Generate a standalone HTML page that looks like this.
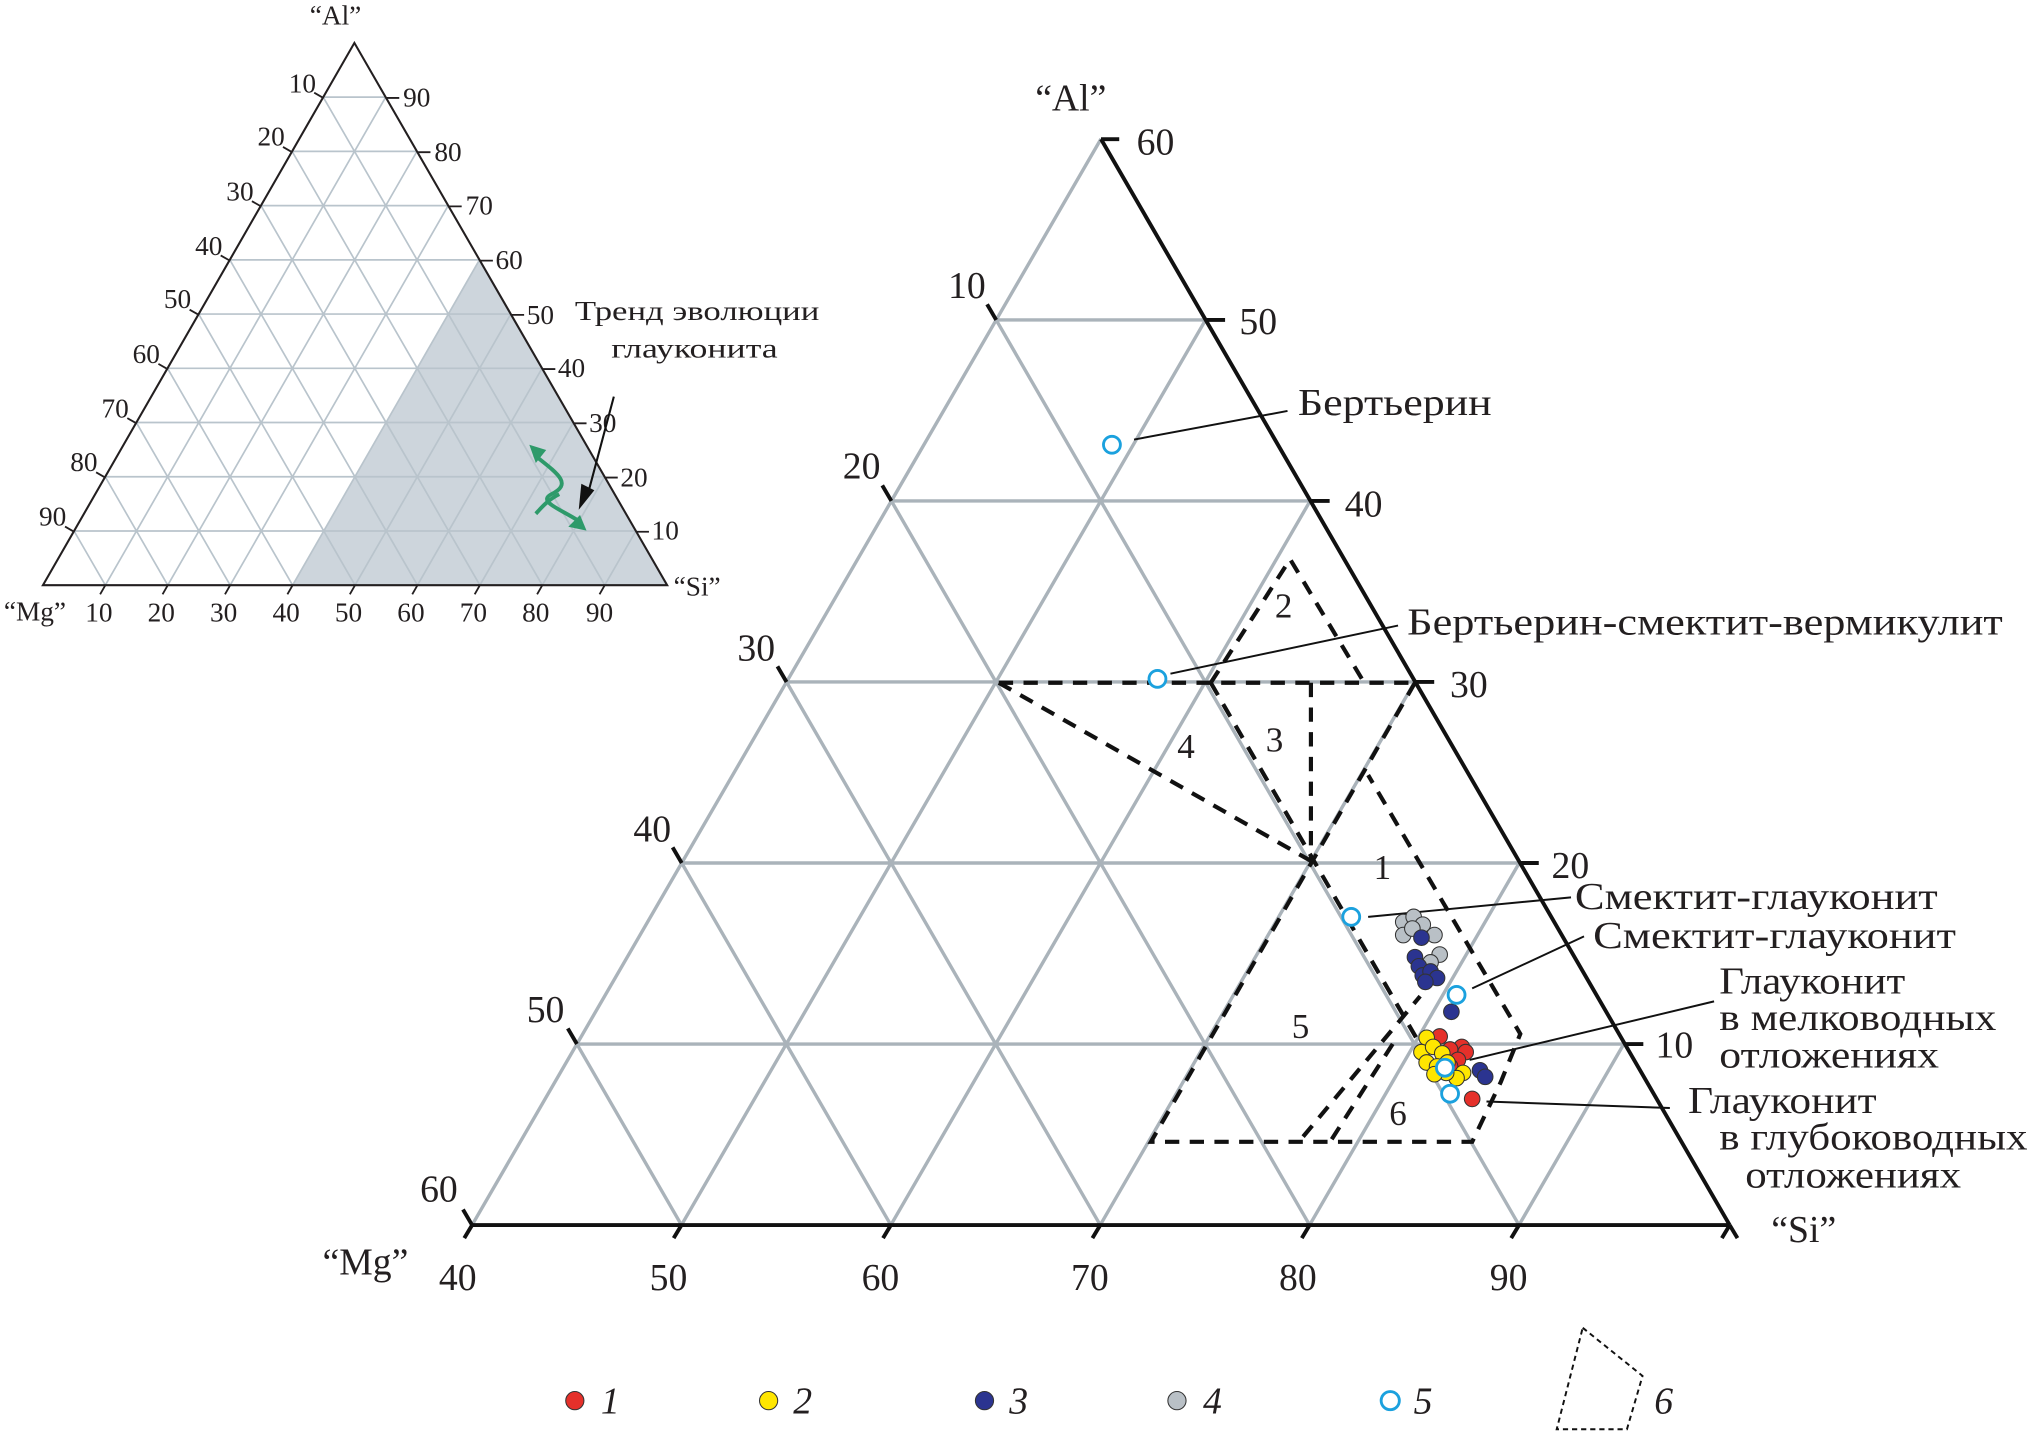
<!DOCTYPE html>
<html><head><meta charset="utf-8"><style>
html,body{margin:0;padding:0;background:#fff;}
svg{display:block;}
text{font-family:"Liberation Serif","DejaVu Serif",serif;fill:#231f20;}
</style></head><body>
<svg width="2034" height="1439" viewBox="0 0 1564 1106.5" preserveAspectRatio="none" xmlns="http://www.w3.org/2000/svg">
<rect x="0" y="0" width="1564" height="1106.5" fill="#fff"/>

<!-- SMALL TRIANGLE -->
<polygon points="225,450 513,450 368.7,199.8" fill="#cdd5dc"/>
<g transform="matrix(48,0,23.95,-41.7,33,450)" stroke="#b9c4cc" stroke-width="1.7" fill="none">
<path vector-effect="non-scaling-stroke" d="M0,1L9,1M0,2L8,2M0,3L7,3M0,4L6,4M0,5L5,5M0,6L4,6M0,7L3,7M0,8L2,8M0,9L1,9
M1,0L1,9M2,0L2,8M3,0L3,7M4,0L4,6M5,0L5,5M6,0L6,4M7,0L7,3M8,0L8,2M9,0L9,1
M1,0L0,1M2,0L0,2M3,0L0,3M4,0L0,4M5,0L0,5M6,0L0,6M7,0L0,7M8,0L0,8M9,0L0,9"/>
</g>
<path d="M33,450L272.5,33L513,450Z" stroke="#231f20" stroke-width="1.6" fill="none"/>
<g stroke="#231f20" stroke-width="1.4">
<path d="M297,75.3h10M321,117h10M345,158.7h10M369,200.4h10M393,242.1h10M417,283.8h10M441,325.5h10M465,367.2h10M489,408.9h10"/>
<path d="M248.6,75.3l-7,-4M224.6,117l-7,-4M200.7,158.7l-7,-4M176.7,200.4l-7,-4M152.8,242.1l-7,-4M128.8,283.8l-7,-4M104.9,325.5l-7,-4M80.9,367.2l-7,-4M57,408.9l-7,-4"/>
<path d="M81,450l-4,7M129,450l-4,7M177,450l-4,7M225,450l-4,7M273,450l-4,7M321,450l-4,7M369,450l-4,7M417,450l-4,7M465,450l-4,7"/>
</g>
<g font-size="21">
<text x="258" y="19" text-anchor="middle">“Al”</text>
<text x="518" y="458">“Si”</text>
<text x="3" y="477">“Mg”</text>
<g text-anchor="middle">
<text x="76" y="478">10</text><text x="124" y="478">20</text><text x="172" y="478">30</text><text x="220" y="478">40</text><text x="268" y="478">50</text><text x="316" y="478">60</text><text x="364" y="478">70</text><text x="412" y="478">80</text><text x="461" y="478">90</text>
</g>
<g text-anchor="end">
<text x="243" y="71">10</text><text x="219" y="112">20</text><text x="195" y="154">30</text><text x="171" y="196">40</text><text x="147" y="237">50</text><text x="123" y="279">60</text><text x="99" y="321">70</text><text x="75" y="362">80</text><text x="51" y="404">90</text>
</g>
<text x="310" y="82">90</text><text x="334" y="124">80</text><text x="358" y="165">70</text><text x="381" y="207">60</text><text x="405" y="249">50</text><text x="429" y="290">40</text><text x="453" y="332">30</text><text x="477" y="374">20</text><text x="501" y="415">10</text>
<text x="442" y="246" textLength="188" lengthAdjust="spacingAndGlyphs">Тренд эволюции</text>
<text x="470" y="275" textLength="128" lengthAdjust="spacingAndGlyphs">глауконита</text>
</g>
<!-- arrows small -->
<path d="M472,305L452,380" stroke="#111" stroke-width="1.6"/>
<path d="M445,392L447,372L457,377Z" fill="#111"/>
<path d="M411,350C430,365 440,372 424,380C412,386 435,393 447,402" stroke="#2e9a6a" stroke-width="3" fill="none"/>
<path d="M407,342L420,346L412,356Z" fill="#2e9a6a"/>
<path d="M451,408L437,405L446,396Z" fill="#2e9a6a"/>
<path d="M430,380C420,385 415,392 412,395" stroke="#2e9a6a" stroke-width="3" fill="none"/>

<!-- MAIN TRIANGLE GRID -->
<g transform="matrix(161,0,80.6,-139.2,363,942)" stroke="#aab3ba" stroke-width="3.4" fill="none">
<path vector-effect="non-scaling-stroke" d="M0,1L5,1M0,2L4,2M0,3L3,3M0,4L2,4M0,5L1,5
M1,0L1,5M2,0L2,4M3,0L3,3M4,0L4,2M5,0L5,1
M1,0L0,1M2,0L0,2M3,0L0,3M4,0L0,4M5,0L0,5M0,0L0,6"/>
</g>
<path d="M363,942L1330,942M846.6,107L1330,942" stroke="#111" stroke-width="3" fill="none"/>
<g stroke="#111" stroke-width="3">
<path d="M846.6,107h14M927,246h15M1007.4,385.2h15M1087.8,524.4h15M1168.2,663.6h15M1248.6,802.8h15"/>
<path d="M766,246l-7,-12M685.4,385.2l-7,-12M604.8,524.4l-7,-12M524.2,663.6l-7,-12M443.6,802.8l-7,-12M363,942l-7,-12"/>
<path d="M363,942l-6,10M524,942l-6,10M685,942l-6,10M846,942l-6,10M1007,942l-6,10M1168,942l-6,10M1330,942l-6,10M1330,942l6,10"/>
</g>
<g font-size="29">
<text x="796" y="85">“Al”</text>
<text x="248" y="980">“Mg”</text>
<text x="1362" y="955">“Si”</text>
<text x="874" y="119">60</text><text x="953" y="257">50</text><text x="1034" y="397">40</text><text x="1115" y="536">30</text><text x="1193" y="675">20</text><text x="1273" y="813">10</text>
<g text-anchor="end">
<text x="758" y="229">10</text><text x="677" y="368">20</text><text x="596" y="508">30</text><text x="516" y="647">40</text><text x="434" y="786">50</text><text x="352" y="924">60</text>
</g>
<g text-anchor="middle">
<text x="352" y="992">40</text><text x="514" y="992">50</text><text x="677" y="992">60</text><text x="838" y="992">70</text><text x="998" y="992">80</text><text x="1160" y="992">90</text>
</g>
</g>

<!-- dashed regions -->
<g stroke="#111" stroke-width="3.2" stroke-dasharray="11,8" fill="none">
<path d="M768,525L1088,525"/>
<path d="M931,525L992,430L1049,525"/>
<path d="M768,525L1008,662"/>
<path d="M931,525L1089,798"/>
<path d="M1008,525L1008,662"/>
<path d="M1088,525L885,878L1132,878L1154,832L1169,795L1052,596"/>
<path d="M1002,874L1092,766"/>
<path d="M1024,876L1072,801"/>
</g>
<g font-size="27">
<text x="1063" y="676" text-anchor="middle">1</text>
<text x="987" y="475" text-anchor="middle">2</text>
<text x="980" y="578" text-anchor="middle">3</text>
<text x="912" y="583" text-anchor="middle">4</text>
<text x="1000" y="798" text-anchor="middle">5</text>
<text x="1075" y="865" text-anchor="middle">6</text>
</g>

<!-- leader lines -->
<g stroke="#111" stroke-width="1.5">
<path d="M872,338L990,316M900,518L1075,481M1052,705L1208,690M1132,760L1218,720M1130,815L1318,770M1143,847L1284,852"/>
</g>
<g font-size="29">
<text x="998" y="319" textLength="149" lengthAdjust="spacingAndGlyphs">Бертьерин</text>
<text x="1082" y="488" textLength="458" lengthAdjust="spacingAndGlyphs">Бертьерин-смектит-вермикулит</text>
<text x="1211" y="699" textLength="279" lengthAdjust="spacingAndGlyphs">Смектит-глауконит</text>
<text x="1225" y="729" textLength="279" lengthAdjust="spacingAndGlyphs">Смектит-глауконит</text>
<text x="1322" y="764" textLength="143" lengthAdjust="spacingAndGlyphs">Глауконит</text>
<text x="1322" y="792" textLength="213" lengthAdjust="spacingAndGlyphs">в мелководных</text>
<text x="1322" y="821" textLength="169" lengthAdjust="spacingAndGlyphs">отложениях</text>
<text x="1298" y="856" textLength="145" lengthAdjust="spacingAndGlyphs">Глауконит</text>
<text x="1322" y="884" textLength="237" lengthAdjust="spacingAndGlyphs">в глубоководных</text>
<text x="1342" y="913" textLength="166" lengthAdjust="spacingAndGlyphs">отложениях</text>
</g>

<!-- data points -->
<g stroke="#333" stroke-width="0.8">
<g fill="#b9c0c6">
<circle cx="1079" cy="709" r="6"/><circle cx="1087" cy="705" r="6"/><circle cx="1094" cy="711" r="6"/><circle cx="1079" cy="719" r="6"/><circle cx="1103" cy="719" r="6"/><circle cx="1107" cy="734" r="6"/><circle cx="1100" cy="740" r="6"/><circle cx="1086" cy="714" r="6"/>
</g>
<g fill="#2b3490">
<circle cx="1093" cy="721" r="6"/><circle cx="1088" cy="736" r="6"/><circle cx="1091" cy="743" r="6"/><circle cx="1094" cy="750" r="6"/><circle cx="1100" cy="747" r="6"/><circle cx="1105" cy="752" r="6"/><circle cx="1096" cy="755" r="6"/><circle cx="1116" cy="778" r="6"/><circle cx="1138" cy="823" r="6"/><circle cx="1142" cy="828" r="6"/>
</g>
<g fill="#e5302a">
<circle cx="1107" cy="797" r="6"/><circle cx="1124" cy="805" r="6"/><circle cx="1127" cy="809" r="6"/><circle cx="1115" cy="807" r="6"/><circle cx="1121" cy="815" r="6"/><circle cx="1115" cy="820" r="6"/><circle cx="1132" cy="845" r="6"/>
</g>
<g fill="#ffe600">
<circle cx="1097" cy="798" r="6"/><circle cx="1093" cy="809" r="6"/><circle cx="1102" cy="805" r="6"/><circle cx="1109" cy="810" r="6"/><circle cx="1097" cy="817" r="6"/><circle cx="1105" cy="820" r="6"/><circle cx="1113" cy="817" r="6"/><circle cx="1125" cy="825" r="6"/><circle cx="1120" cy="829" r="6"/><circle cx="1112" cy="825" r="6"/><circle cx="1103" cy="826" r="6"/>
</g>
</g>
<g fill="#fff" stroke="#1ba1de" stroke-width="2.2">
<circle cx="855" cy="342" r="6.5"/><circle cx="890" cy="522" r="6.5"/><circle cx="1039" cy="705" r="6.5"/><circle cx="1120" cy="765" r="6.5"/><circle cx="1111" cy="821" r="6.5"/><circle cx="1115" cy="841" r="6.5"/>
</g>

<!-- legend -->
<g stroke="#333" stroke-width="0.8">
<circle cx="442" cy="1077" r="7" fill="#e5302a"/>
<circle cx="591" cy="1077" r="7" fill="#ffe600"/>
<circle cx="757" cy="1077" r="7" fill="#2b3490"/>
<circle cx="905" cy="1077" r="7" fill="#b9c0c6"/>
</g>
<circle cx="1069" cy="1077" r="7" fill="#fff" stroke="#1ba1de" stroke-width="2.2"/>
<path d="M1217,1021L1263,1058L1251,1099L1197,1099Z" fill="none" stroke="#111" stroke-width="1.5" stroke-dasharray="4,3"/>
<g font-size="29" font-style="italic">
<text x="462" y="1087">1</text><text x="610" y="1087">2</text><text x="776" y="1087">3</text><text x="925" y="1087">4</text><text x="1087" y="1087">5</text><text x="1272" y="1087">6</text>
</g>
</svg>
</body></html>
